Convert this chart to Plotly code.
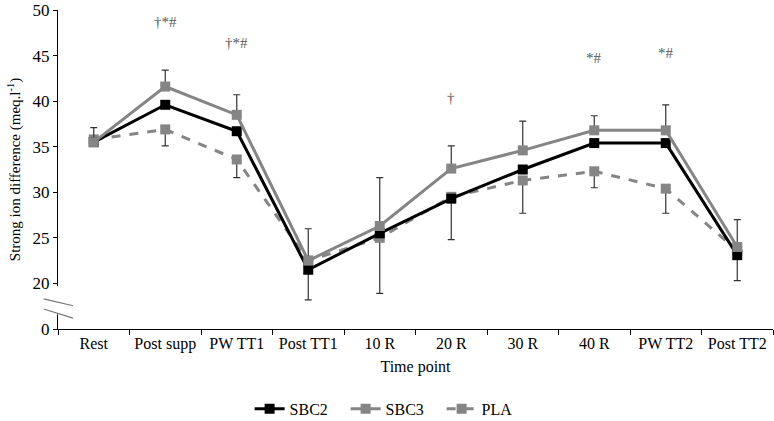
import plotly.graph_objects as go

categories = ["Rest", "Post supp", "PW TT1", "Post TT1", "10 R", "20 R", "30 R", "40 R", "PW TT2", "Post TT2"]
sbc2 = [35.5, 39.6, 36.7, 21.5, 25.5, 29.3, 32.5, 35.4, 35.4, 23.1]
sbc3 = [35.5, 41.6, 38.5, 22.5, 26.3, 32.6, 34.6, 36.8, 36.8, 24.0]
pla = [35.8, 36.9, 33.6, 22.5, 25.0, 29.5, 31.3, 32.3, 30.4, 23.6]
sbc3_err_up = [1.6, 1.8, 2.2, 3.5, 5.3, 2.5, 3.2, 1.6, 2.8, 3.0]
pla_err_down = [0.0, 1.8, 2.0, 4.3, 6.1, 4.7, 3.6, 1.8, 2.7, 3.3]
sig_labels = ["", "†*#", "†*#", "", "", "†", "", "*#", "*#", ""]
sig_heights = [None, 48.7, 46.4, None, None, 40.3, None, 44.7, 45.3, None]

ytick_vals = [15, 20, 25, 30, 35, 40, 45, 50]
ytick_text = ["0", "20", "25", "30", "35", "40", "45", "50"]

FONT = "Liberation Serif, Times New Roman, serif"
GRAY = "#858585"
ERR = "#333333"

fig = go.Figure()
fig.add_trace(go.Scatter(
    x=categories, y=pla, name="PLA", mode="lines+markers",
    line=dict(color=GRAY, width=3, dash="dash"),
    marker=dict(symbol="square", size=10, color=GRAY),
    error_y=dict(type="data", symmetric=False, array=[0] * len(pla), arrayminus=pla_err_down,
                 color=ERR, thickness=1.2, width=3.5),
))
fig.add_trace(go.Scatter(
    x=categories, y=sbc2, name="SBC2", mode="lines+markers",
    line=dict(color="black", width=3),
    marker=dict(symbol="square", size=10, color="black"),
))
fig.add_trace(go.Scatter(
    x=categories, y=sbc3, name="SBC3", mode="lines+markers",
    line=dict(color=GRAY, width=3),
    marker=dict(symbol="square", size=10, color=GRAY),
    error_y=dict(type="data", symmetric=False, array=sbc3_err_up, arrayminus=[0] * len(sbc3),
                 color=ERR, thickness=1.2, width=3.5),
))

for cat, lab, h in zip(categories, sig_labels, sig_heights):
    if lab:
        fig.add_annotation(x=cat, y=h, text=lab, showarrow=False,
                           font=dict(family=FONT, size=15, color="#555555"))

# axis break: cover axis segment and draw two slanted marks
fig.add_shape(type="line", xref="paper", yref="y", x0=-0.0005, x1=-0.0005, y0=16.6, y1=19.7,
              line=dict(color="white", width=4), layer="above")
fig.add_shape(type="line", xref="paper", yref="y", x0=-0.02, x1=0.021, y0=18.3, y1=17.55,
              line=dict(color="#777777", width=1.2), layer="above")
fig.add_shape(type="line", xref="paper", yref="y", x0=-0.02, x1=0.021, y0=17.2, y1=16.2,
              line=dict(color="#777777", width=1.2), layer="above")

fig.update_layout(
    width=774, height=421,
    margin=dict(l=58, r=1, t=10, b=92, autoexpand=False),
    plot_bgcolor="white", paper_bgcolor="white",
    font=dict(family=FONT, size=16, color="black"),
    showlegend=True,
    legend=dict(orientation="h", x=0.268, xanchor="left", y=-0.25, yanchor="middle",
                traceorder="normal", font=dict(family=FONT, size=16),
                entrywidth=51, entrywidthmode="pixels"),
    xaxis=dict(
        type="category", categoryorder="array", categoryarray=categories,
        showline=True, linecolor="black", linewidth=1,
        ticks="outside", tickson="boundaries", ticklen=5, tickcolor="black",
        showgrid=False, zeroline=False, automargin=False,
        title=dict(text="Time point", font=dict(family=FONT, size=16), standoff=8),
        range=[-0.5, 9.5], tickfont=dict(family=FONT, size=16),
    ),
    yaxis=dict(
        range=[15, 50], tickvals=ytick_vals, ticktext=ytick_text,
        showline=True, linecolor="black", linewidth=1,
        ticks="outside", ticklen=4, tickcolor="black",
        showgrid=False, zeroline=False, automargin=False,
        title=dict(text="Strong ion difference (meq.l<sup>-1</sup>)", font=dict(family=FONT, size=15), standoff=8),
        tickfont=dict(family=FONT, size=17),
    ),
)

# legend order SBC2, SBC3, PLA
fig.data[0].legendrank = 3
fig.data[1].legendrank = 1
fig.data[2].legendrank = 2

fig.write_html("out.html", config={"displayModeBar": False},
               post_script="document.body.style.margin='0';document.body.style.overflow='hidden';")
